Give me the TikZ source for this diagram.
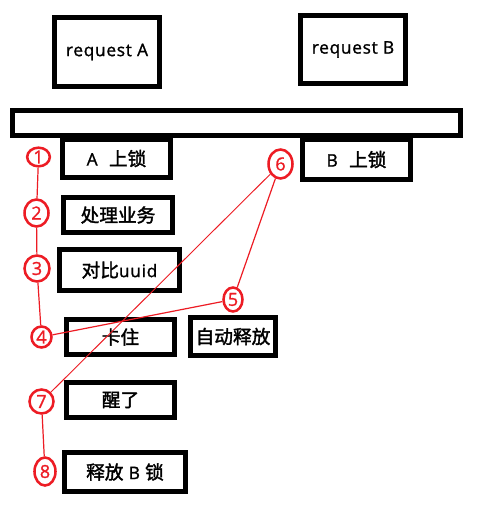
\documentclass[tikz,border=0pt]{standalone}
\usepackage{fontspec}
\setmainfont{Open Sans}[FakeBold=1.2,LetterSpace=4]
\newfontfamily\cjkfont{Noto Sans CJK SC}[FakeBold=1.8]
\newcommand\zh[1]{{\cjkfont\fontsize{14pt}{16pt}\selectfont #1}}
\usetikzlibrary{shapes.geometric}
\definecolor{pred}{RGB}{237,28,36}
\begin{document}
\begin{tikzpicture}[x=0.75pt,y=-0.75pt,
  box/.style={draw=black,line width=3.75pt,rectangle,inner sep=0pt,
    font=\fontsize{13pt}{15pt}\selectfont},
  num/.style={draw=pred,line width=1.9pt,ellipse,inner sep=0pt,text=pred,
    font=\fontsize{13.5pt}{15pt}\selectfont},
  link/.style={draw=pred,line width=0.9pt},
  thinlink/.style={draw=pred,line width=0.7pt}]
\useasboundingbox (0,0) rectangle (477,506);
\fill[white] (0,0) rectangle (477,506);
% boxes
\node[box,minimum width=78.75pt,minimum height=51.75pt] (reqA) at (107,52) {request A};
\node[box,minimum width=78.75pt,minimum height=51pt] (reqB) at (353,49.5) {request B};
\node[box,minimum width=336pt,minimum height=18.75pt] (bar) at (236.5,123) {};
\node[box,minimum width=81pt,minimum height=28.5pt] (lockA) at (116.5,158.5) {A\hspace{8.5pt}\zh{上锁}};
\node[box,minimum width=81pt,minimum height=30pt] (lockB) at (356.5,159.5) {B\hspace{8.5pt}\zh{上锁}};
\node[box,minimum width=81.75pt,minimum height=26.25pt] (biz) at (118,215) {\zh{处理业务}\hspace{3.75pt}};
\node[box,minimum width=90pt,minimum height=30.75pt] (uuid) at (119.5,270) {\zh{对比}uuid\hspace{7.5pt}};
\node[box,minimum width=81pt,minimum height=26.25pt] (stuck) at (120.5,337) {\zh{卡住}\hspace{14.25pt}};
\node[box,minimum width=63.75pt,minimum height=28.5pt] (auto) at (233,336.5) {\zh{自动释放}};
\node[box,minimum width=81pt,minimum height=26.25pt] (awake) at (120.5,400) {\zh{醒了}\hspace{23.25pt}};
\node[box,minimum width=90.75pt,minimum height=29.25pt] (relB) at (125,472) {\zh{释放} B \zh{锁}\hspace{8.25pt}};
% numbered circles
\node[num,minimum width=17pt,minimum height=14pt] (c1) at (38.5,157) {1};
\node[num,minimum width=18pt,minimum height=20.25pt] (c2) at (36.5,213) {2};
\node[num,minimum width=18.75pt,minimum height=19.5pt] (c3) at (37,268.5) {3};
\node[num,minimum width=15pt,minimum height=15.75pt] (c4) at (41.5,337) {4};
\node[num,minimum width=14.25pt,minimum height=18pt] (c5) at (233,299.5) {5};
\node[num,minimum width=18pt,minimum height=21.75pt] (c6) at (280.5,164) {6};
\node[num,minimum width=18pt,minimum height=18pt] (c7) at (41.5,401.5) {7};
\node[num,minimum width=15.75pt,minimum height=21pt] (c8) at (45,471.5) {8};
% connectors
\draw[link] (c1) -- (c2);
\draw[link] (c2) -- (c3);
\draw[link] (c3) -- (c4);
\draw[link] (c4) -- (c5);
\draw[link] (c5) -- (c6);
\draw[thinlink] (c6) -- (c7);
\draw[link] (c7) -- (c8);
\end{tikzpicture}
\end{document}
